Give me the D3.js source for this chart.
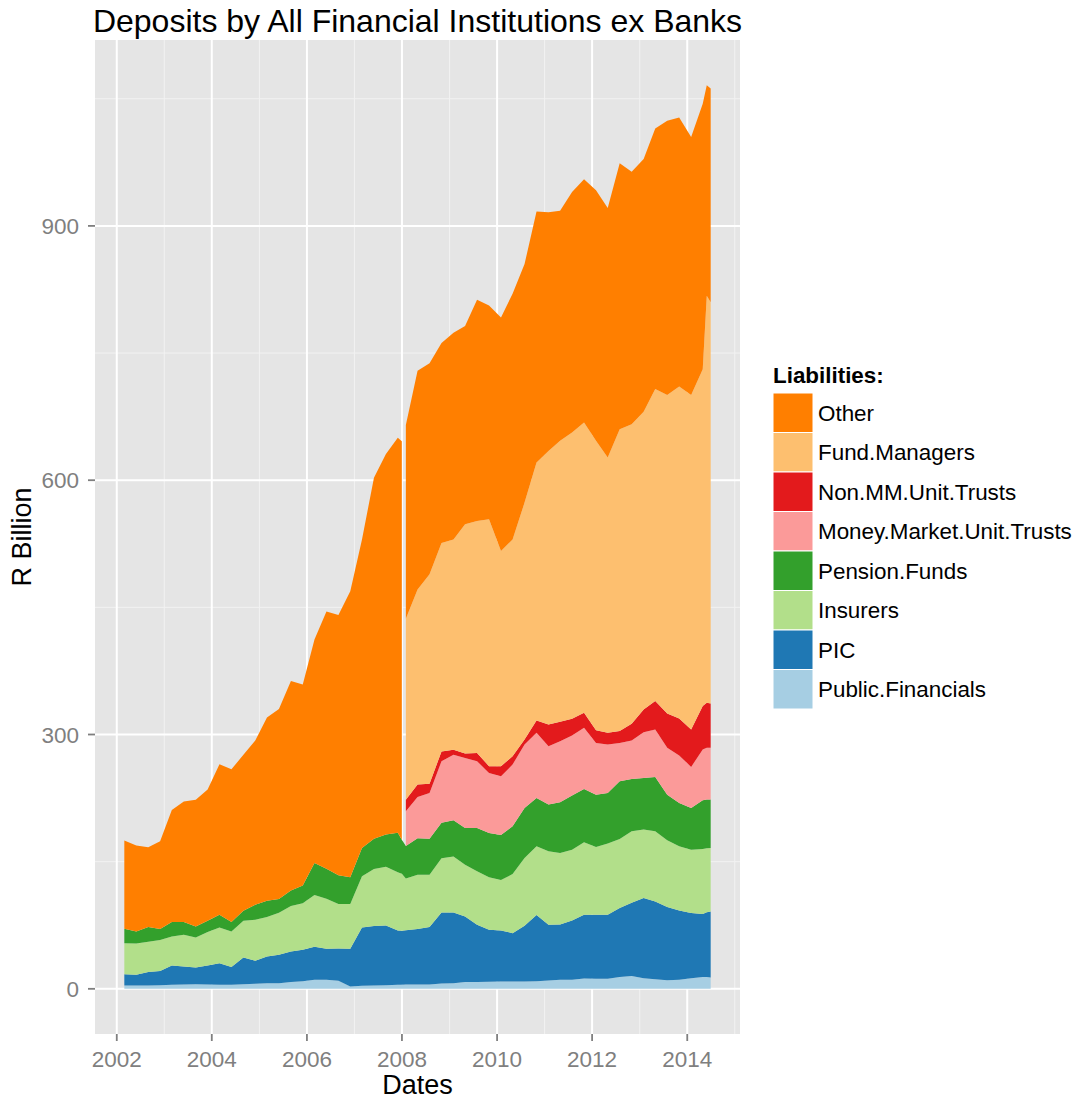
<!DOCTYPE html>
<html><head><meta charset="utf-8">
<script src="https://cdn.jsdelivr.net/npm/d3@7"></script>
<style>
body{margin:0;background:#fff;}
text{font-family:"Liberation Sans",Arial,Helvetica,sans-serif;}
</style>
</head><body>
<svg id="chart" width="1081" height="1101"></svg>
<script>
// ---- data (R billion, end of month) ----
const dates = ["2002-02","2002-05","2002-08","2002-11","2003-02","2003-05","2003-08","2003-11",
"2004-02","2004-05","2004-08","2004-11","2005-02","2005-05","2005-08","2005-11",
"2006-02","2006-05","2006-08","2006-11","2007-02","2007-05","2007-08","2007-11","2007-12",
"2008-01","2008-04","2008-07","2008-10","2009-01","2009-04","2009-07","2009-10",
"2010-01","2010-04","2010-07","2010-10","2011-01","2011-04","2011-07","2011-10",
"2012-01","2012-04","2012-07","2012-10","2013-01","2013-04","2013-07","2013-10",
"2014-01","2014-04","2014-05","2014-06"];

const publicFinancials = [3.9,3.9,3.9,4.3,4.7,5.1,5.5,5.1,4.7,4.7,5.5,5.9,6.7,6.7,7.9,9.0,
10.6,10.6,9.4,2.8,3.5,3.9,4.3,4.7,4.7,
5.0,5.1,5.1,6.3,6.7,7.9,7.9,8.3,8.7,8.7,8.7,9.0,9.8,10.6,10.6,12.2,
11.8,11.8,13.8,15.0,12.6,11.4,10.2,10.6,12.6,13.8,13.8,13.4];

const pic = [13.4,12.6,15.8,16.6,22.9,21.3,19.7,22.5,25.6,20.9,31.5,27.1,31.5,33.5,36.1,37.0,
39.0,36.6,38.2,44.4,68.9,70.1,70.5,64.2,63.8,
64.0,65.4,67.7,83.7,83.3,77.5,67.7,61.4,60.2,57.0,65.7,78.0,65.8,65.4,70.1,75.2,
75.6,75.6,81.5,86.6,94.4,91.6,86.3,81.9,76.8,74.4,76.4,77.9];

const insurers = [36.6,37.0,35.8,36.6,34.2,37.4,35.4,39.3,42.1,42.1,43.3,48.5,46.4,49.6,53.6,55.0,
61.0,59.1,52.4,52.8,60.3,67.3,69.2,68.5,67.3,
61.0,64.1,61.8,64.0,66.0,61.1,63.0,61.8,59.4,69.7,79.9,81.1,86.6,84.2,83.5,85.4,
79.9,83.9,81.5,84.2,80.8,82.8,78.7,75.6,74.8,76.8,75.5,74.7];

const pensionFunds = [17.0,14.2,17.3,13.0,16.9,14.9,13.0,13.4,15.0,11.0,11.7,17.7,19.4,16.2,18.4,21.0,
37.8,35.4,33.9,31.5,33.3,35.7,38.0,46.6,40.2,
38.5,43.0,42.4,42.0,43.0,43.3,51.2,52.4,53.2,56.3,59.1,57.1,55.1,59.8,63.8,63.0,
61.7,59.7,68.1,61.8,61.0,64.2,53.8,51.2,49.2,57.4,57.5,57.2];

const N = null;
const moneyMarketUnitTrusts = [N,N,N,N,N,N,N,N,N,N,N,N,N,N,N,N,N,N,N,N,N,N,N,N,N,
40.9,48.8,54.0,72.5,77.0,82.6,78.7,70.8,69.3,72.9,74.8,76.8,68.9,72.0,70.8,72.1,
61.0,57.2,45.1,45.4,54.0,55.9,55.3,55.9,48.4,59.9,61.1,61.1];

const nonMMUnitTrusts = [N,N,N,N,N,N,N,N,N,N,N,N,N,N,N,N,N,N,N,N,N,N,N,N,N,
13.6,14.6,11.0,11.5,6.0,5.2,9.8,7.9,11.8,9.8,5.8,14.5,25.6,23.0,19.7,17.7,
15.0,13.8,14.0,19.6,26.7,33.5,40.5,43.7,44.2,51.2,53.1,52.3];

const fundManagers = [N,N,N,N,N,N,N,N,N,N,N,N,N,N,N,N,N,N,N,N,N,N,N,N,N,
213.6,230.0,247.0,246.0,248.0,270.4,273.7,291.4,253.9,255.6,279.6,304.4,322.8,331.5,337.8,342.4,
341.5,324.8,356.2,353.4,351.2,368.1,375.6,391.7,394.4,397.5,480.3,473.2];

const other = [104.1,101.3,94.2,103.5,132.3,142.3,149.4,154.7,177.6,180.3,184.0,193.8,216.0,224.0,247.0,237.0,
263.6,303.3,307.1,337.5,364.0,426.0,449.0,466.0,470.0,
228.4,258.0,249.0,236.0,244.0,234.0,261.0,252.0,275.5,290.0,281.4,296.1,281.4,271.5,283.7,287.0,
295.5,294.2,313.8,298.0,298.3,307.5,323.6,317.4,304.6,313.0,248.3,252.2];

const seriesNames = ["Public.Financials","PIC","Insurers","Pension.Funds",
  "Money.Market.Unit.Trusts","Non.MM.Unit.Trusts","Fund.Managers","Other"];
const seriesValues = [publicFinancials,pic,insurers,pensionFunds,
  moneyMarketUnitTrusts,nonMMUnitTrusts,fundManagers,other];
const seriesColors = ["#A6CEE3","#1F78B4","#B2DF8A","#33A02C","#FB9A99","#E31A1C","#FDBF6F","#FF7F00"];
const yTickValues = [0,300,600,900];
const yMinorValues = [150,450,750,1050];
const xTickYears = [2002,2004,2006,2008,2010,2012,2014];
const xMinorYears = [2003,2005,2007,2009,2011,2013,2015];
const titleText = "Deposits by All Financial Institutions ex Banks";
const xTitle = "Dates";
const yTitle = "R Billion";
const legendTitle = "Liabilities:";

// ---- build table ----
const parseMonth = s => { const [y,m] = s.split("-").map(Number); return new Date(y, m, 0); };
const rows = dates.map((s,i) => {
  const r = {date: parseMonth(s), idx: i};
  seriesNames.forEach((k,j) => r[k] = seriesValues[j][i]);
  return r;
});
const stacked = d3.stack().keys(seriesNames).value((d,k) => d[k] == null ? 0 : d[k])(rows);

// ---- layout ----
const P = {left:95, right:740, top:40, bottom:1034};
const svg = d3.select("#chart");
const ext = d3.extent(rows, d => d.date);
const span = ext[1] - ext[0];
const x = d3.scaleTime()
  .domain([new Date(+ext[0] - 0.05*span), new Date(+ext[1] + 0.05*span)])
  .range([P.left, P.right]);
const yMax = d3.max(stacked[stacked.length-1], d => d[1]);
const y = d3.scaleLinear().domain([-0.05*yMax, 1.05*yMax]).range([P.bottom, P.top]);

// panel
svg.append("rect").attr("x",P.left).attr("y",P.top)
  .attr("width",P.right-P.left).attr("height",P.bottom-P.top).attr("fill","#E5E5E5");

const grid = svg.append("g");
const yr = yv => new Date(yv,0,1);
grid.selectAll(".ymin").data(yMinorValues.filter(v => y(v) >= P.top)).enter().append("line")
  .attr("x1",P.left).attr("x2",P.right).attr("y1",d=>y(d)).attr("y2",d=>y(d))
  .attr("stroke","#F2F2F2").attr("stroke-width",1);
grid.selectAll(".xmin").data(xMinorYears.filter(v => x(yr(v)) <= P.right)).enter().append("line")
  .attr("y1",P.top).attr("y2",P.bottom).attr("x1",d=>x(yr(d))).attr("x2",d=>x(yr(d)))
  .attr("stroke","#F2F2F2").attr("stroke-width",1);
grid.selectAll(".ymaj").data(yTickValues).enter().append("line")
  .attr("x1",P.left).attr("x2",P.right).attr("y1",d=>y(d)).attr("y2",d=>y(d))
  .attr("stroke","#FFFFFF").attr("stroke-width",2);
grid.selectAll(".xmaj").data(xTickYears).enter().append("line")
  .attr("y1",P.top).attr("y2",P.bottom).attr("x1",d=>x(yr(d))).attr("x2",d=>x(yr(d)))
  .attr("stroke","#FFFFFF").attr("stroke-width",2);

// areas
svg.append("clipPath").attr("id","clip").append("rect")
  .attr("x",P.left).attr("y",P.top).attr("width",P.right-P.left).attr("height",P.bottom-P.top);
const area = d3.area().x(d => x(d.data.date)).y0(d => y(d[0])).y1(d => y(d[1]));
const gA = svg.append("g").attr("clip-path","url(#clip)");
const firstNew = rows.findIndex(r => r["Fund.Managers"] != null);
stacked.forEach((layer,i) => {
  const name = seriesNames[i];
  let segments;
  if (i < 4) segments = [layer];
  else if (i < 7) segments = [layer.filter(d => d.data[name] != null)];
  else segments = [layer.slice(0, firstNew), layer.slice(firstNew)];
  segments.forEach(seg => {
    gA.append("path").attr("d", area(seg)).attr("fill", seriesColors[i]);
  });
});

// axes
const tickCol = "#7F7F7F";
const yAx = svg.append("g");
yTickValues.forEach(v => {
  yAx.append("line").attr("x1",P.left-7).attr("x2",P.left).attr("y1",y(v)).attr("y2",y(v))
    .attr("stroke",tickCol).attr("stroke-width",1.8);
  yAx.append("text").attr("x",P.left-16).attr("y",y(v)+8).attr("text-anchor","end")
    .attr("font-size",22.5).attr("fill",tickCol).text(d3.format("d")(v));
});
const xAx = svg.append("g");
xTickYears.forEach(v => {
  const px = x(yr(v));
  xAx.append("line").attr("x1",px).attr("x2",px).attr("y1",P.bottom).attr("y2",P.bottom+7)
    .attr("stroke",tickCol).attr("stroke-width",1.8);
  xAx.append("text").attr("x",px).attr("y",1067).attr("text-anchor","middle")
    .attr("font-size",22.5).attr("fill",tickCol).text(v);
});

// titles
svg.append("text").attr("x",(P.left+P.right)/2).attr("y",32).attr("text-anchor","middle")
  .attr("font-size",32).attr("fill","#000").text(titleText);
svg.append("text").attr("x",(P.left+P.right)/2).attr("y",1094).attr("text-anchor","middle")
  .attr("font-size",27).attr("fill","#000").text(xTitle);
svg.append("text").attr("transform",`translate(31,${(P.top+P.bottom)/2}) rotate(-90)`)
  .attr("text-anchor","middle").attr("font-size",27).attr("fill","#000").text(yTitle);

// legend
const lg = svg.append("g");
lg.append("text").attr("x",773).attr("y",383).attr("font-size",22.4).attr("font-weight","bold")
  .attr("fill","#000").text(legendTitle);
const legendOrder = seriesNames.map((n,i)=>i).reverse();
const keyH = 39.5, keyTop = 393;
legendOrder.forEach((si, j) => {
  const ky = keyTop + j*keyH;
  lg.append("rect").attr("x",773).attr("y",ky).attr("width",40).attr("height",keyH)
    .attr("fill",seriesColors[si]).attr("stroke","#FFFFFF").attr("stroke-width",1);
  lg.append("text").attr("x",818).attr("y",ky+keyH/2+8).attr("font-size",22.4)
    .attr("fill","#000").text(seriesNames[si]);
});
</script>
</body></html>
